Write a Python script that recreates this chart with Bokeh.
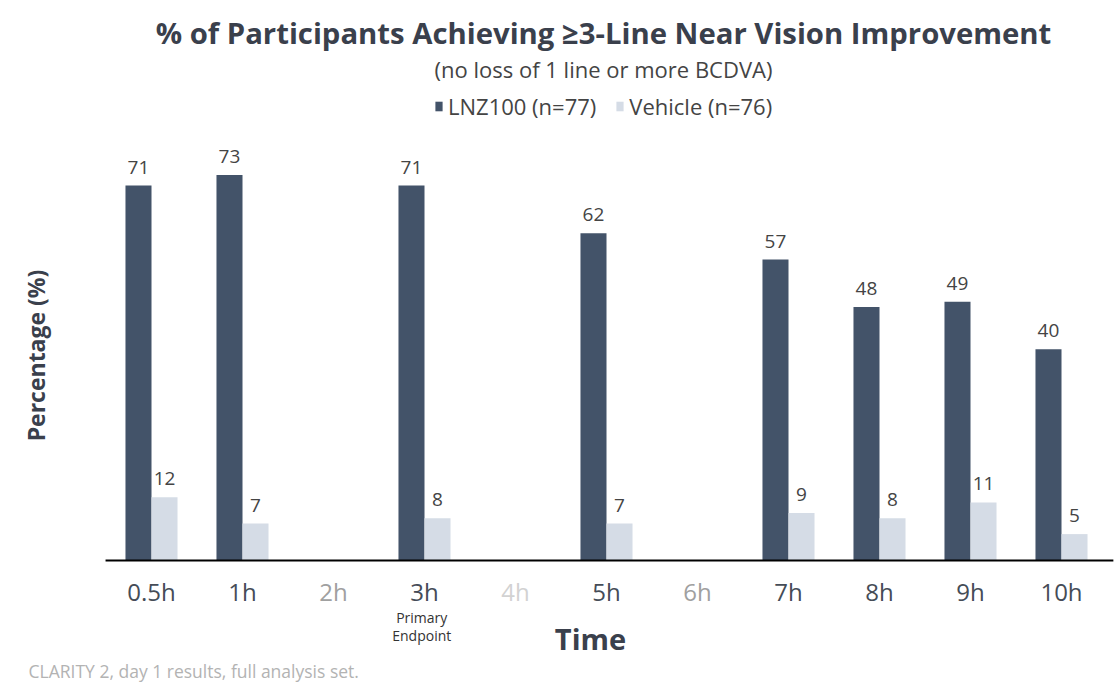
import math
from bokeh.plotting import figure
from bokeh.models import (ColumnDataSource, LabelSet, Label, Legend, LegendItem, Range1d)
from bokeh.transform import dodge
from bokeh.embed import file_html
from bokeh.resources import INLINE
from bokeh.core.properties import value

# ---------------- data ----------------
categories = ["0.5h", "1h", "2h", "3h", "4h", "5h", "6h", "7h", "8h", "9h", "10h"]
lnz100 = [71, 73, None, 71, None, 62, None, 57, 48, 49, 40]
vehicle = [12, 7, None, 8, None, 7, None, 9, 8, 11, 5]
tick_colors = ["#454c57", "#454c57", "#a0a0a0", "#454c57", "#d2d2d2", "#454c57",
               "#a0a0a0", "#454c57", "#454c57", "#454c57", "#454c57"]
series_names = ["LNZ100 (n=77)", "Vehicle (n=76)"]
title_text = "% of Participants Achieving \u22653-Line Near Vision Improvement"
subtitle_text = "(no loss of 1 line or more BCDVA)"
footnote_text = "CLARITY 2, day 1 results, full analysis set."
x_title = "Time"
y_title = "Percentage (%)"
note_category = "3h"
note_lines = ["Primary", "Endpoint"]

# ---------------- styling / layout ----------------
FONT = "Open Sans"
DARK = "#435369"
LIGHT = "#d5dce6"
TEXT = "#3a404c"
W, H = 1118, 682
BASE_Y = 560          # pixel row of the zero line
PX_PER_UNIT = 5.28    # vertical pixels per percentage point
FIRST_X = 151         # pixel column of the first category centre
STEP = 91             # pixels between category centres

x_start = -FIRST_X / STEP
y_start = -(H - BASE_Y) / PX_PER_UNIT


def ydata(py):
    return (BASE_Y - py) / PX_PER_UNIT


def xdata(px):
    return (px - FIRST_X) / STEP


p = figure(width=W, height=H,
           x_range=Range1d(x_start, x_start + W / STEP),
           y_range=Range1d(y_start, y_start + H / PX_PER_UNIT),
           output_backend="svg", toolbar_location=None,
           min_border_left=0, min_border_right=0,
           min_border_top=0, min_border_bottom=0)
p.outline_line_color = None
p.grid.visible = False
p.xaxis.visible = False
p.yaxis.visible = False
p.background_fill_color = "white"
p.border_fill_color = "white"


def make_source(vals):
    idx = [i for i, v in enumerate(vals) if v is not None]
    return ColumnDataSource(dict(x=idx,
                                 top=[vals[i] for i in idx],
                                 label=[str(vals[i]) for i in idx]))


src_l = make_source(lnz100)
src_v = make_source(vehicle)
OFF = 0.143
BW = 0.286
r1 = p.vbar(x=dodge("x", -OFF), top="top", bottom=0, width=BW, source=src_l,
            fill_color=DARK, line_color=None)
r2 = p.vbar(x=dodge("x", OFF), top="top", bottom=0, width=BW, source=src_v,
            fill_color=LIGHT, line_color=None)

# zero line (category axis line)
p.segment(x0=-0.505, x1=len(categories) - 1 + 0.57, y0=0, y1=0,
          line_color="black", line_width=2)

for src, off in ((src_l, -OFF), (src_v, OFF)):
    p.add_layout(LabelSet(x=dodge("x", off), y="top", text="label",
                          source=src, y_offset=12, text_align="center",
                          text_baseline="alphabetic", text_font=value(FONT),
                          text_font_size="19px", text_color="#444444"))

# category tick labels
tick_src = ColumnDataSource(dict(x=list(range(len(categories))),
                                 y=[0] * len(categories),
                                 text=categories, color=tick_colors))
p.add_layout(LabelSet(x="x", y="y", text="text", source=tick_src, y_offset=-31,
                      text_align="center", text_baseline="middle",
                      text_font=value(FONT), text_font_size="24px",
                      text_color="color"))

# legend
legend = Legend(items=[LegendItem(label=series_names[0], renderers=[r1]),
                       LegendItem(label=series_names[1], renderers=[r2])],
                orientation="horizontal", location=(434, 561),
                glyph_width=9, glyph_height=12, label_standoff=5, spacing=19,
                padding=0, margin=0, border_line_color=None,
                background_fill_alpha=0, label_text_font=FONT,
                label_text_font_size="22px", label_text_color="#444444")
p.add_layout(legend)

# titles and other text
p.add_layout(Label(x=xdata(603), y=ydata(32), text=title_text, text_align="center",
                   text_baseline="middle", text_font=FONT, text_font_size="29.3px",
                   text_font_style="bold", text_color=TEXT))
p.add_layout(Label(x=xdata(603), y=ydata(68), text=subtitle_text, text_align="center",
                   text_baseline="middle", text_font=FONT, text_font_size="22px",
                   text_color="#444444"))
p.add_layout(Label(x=xdata(35), y=ydata(355), text=y_title, angle=math.pi / 2,
                   text_align="center", text_baseline="middle", text_font=FONT,
                   text_font_size="23px", text_font_style="bold", text_color=TEXT))
p.add_layout(Label(x=xdata(590), y=ydata(638), text=x_title, text_align="center",
                   text_baseline="middle", text_font=FONT, text_font_size="29px",
                   text_font_style="bold", text_color=TEXT))
note_x = categories.index(note_category)
for k, line in enumerate(note_lines):
    p.add_layout(Label(x=note_x - 0.03, y=0, y_offset=-(57 + 18 * k), text=line,
                       text_align="center", text_baseline="middle", text_font=FONT,
                       text_font_size="14px", text_color="#333333"))
p.add_layout(Label(x=xdata(28), y=ydata(670), text=footnote_text, text_align="left",
                   text_baseline="middle", text_font=FONT, text_font_size="17.5px",
                   text_color="#b3b3b3"))

open("out.html", "w").write(file_html(p, INLINE))
